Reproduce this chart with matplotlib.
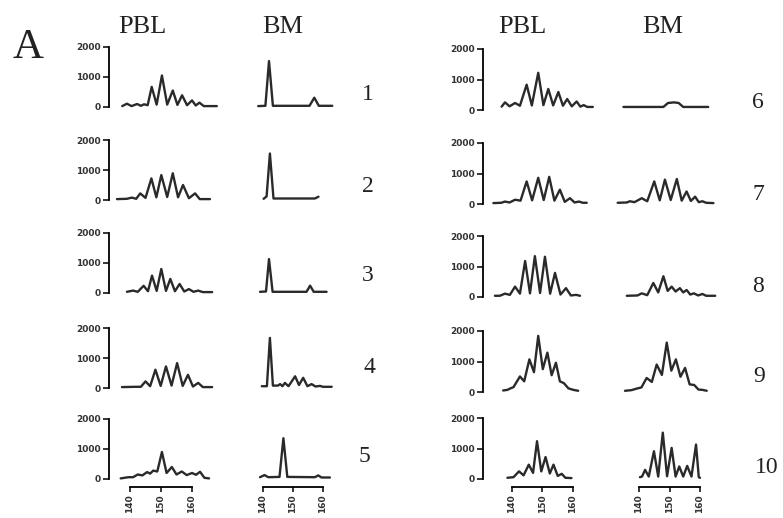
import matplotlib.pyplot as plt

W, H = 783, 518

patients = ['1', '2', '3', '4', '5', '6', '7', '8', '9', '10']
y_ticks = [0, 1000, 2000]
x_ticks = [140, 150, 160]

# spectratype traces: (CDR3 length in nt, intensity)
pbl_traces = [
    [(137.5, 30), (139, 110), (140.5, 30), (142.3, 100), (143.5, 40), (144.5, 90), (145.7, 60),
     (147, 670), (148.6, 80), (150.3, 1050), (152, 80), (153.8, 550), (155.3, 70), (156.8, 390),
     (158.4, 60), (160, 220), (161.2, 50), (162.4, 145), (163.8, 30), (168, 30)],
    [(135.8, 30), (139, 40), (140.6, 80), (142, 40), (143.3, 220), (145, 70), (146.9, 720),
     (148.5, 90), (150.1, 830), (152, 100), (153.8, 890), (155.5, 90), (157.1, 500), (159, 60),
     (161, 220), (162.5, 30), (165.8, 30)],
    [(139, 40), (141, 80), (142.5, 40), (144.4, 240), (145.8, 60), (147.1, 580), (148.6, 70),
     (150.1, 800), (151.6, 70), (153, 470), (154.5, 60), (156, 300), (157.5, 50), (159, 130),
     (160.5, 40), (162, 80), (163.5, 30), (166.5, 30)],
    [(137.4, 30), (141.5, 40), (143.5, 40), (145, 220), (146.5, 60), (148.2, 610), (149.9, 70),
     (151.6, 720), (153.4, 80), (155.2, 830), (157, 70), (158.7, 440), (160.3, 50), (162, 170),
     (163.5, 30), (166.5, 30)],
    [(137, 20), (139.5, 60), (141, 60), (142.5, 150), (144, 120), (145.5, 230), (146.5, 180),
     (147.5, 280), (148.8, 250), (150.3, 900), (151.8, 200), (153.5, 400), (155, 150),
     (156.7, 250), (158.3, 130), (160, 200), (161.3, 140), (162.6, 240), (164, 40), (165.5, 20)],
    [(136.6, 110), (137.7, 250), (139.2, 120), (141, 230), (142.6, 140), (144.8, 830),
     (146.5, 150), (148.6, 1220), (150.3, 160), (151.9, 690), (153.5, 150), (155.2, 590),
     (156.7, 140), (158.1, 360), (159.6, 120), (161.2, 280), (162.4, 110), (163.5, 160),
     (164.7, 100), (166.5, 100)],
    [(133.9, 30), (136.5, 40), (137.7, 80), (139.2, 50), (141, 140), (142.8, 110), (144.8, 740),
     (146.6, 120), (148.6, 860), (150.4, 130), (152.2, 890), (153.9, 110), (155.7, 470),
     (157.3, 70), (159, 190), (160.5, 50), (162, 80), (163.2, 40), (164.5, 40)],
    [(134.4, 40), (136, 40), (137.7, 110), (139.3, 70), (141, 340), (142.6, 110), (144.3, 1180),
     (145.9, 120), (147.5, 1340), (149.2, 130), (150.8, 1320), (152.5, 110), (154.1, 790),
     (155.9, 80), (157.7, 290), (159.3, 50), (161, 70), (162.3, 40)],
    [(137.1, 50), (138.5, 70), (139.3, 110), (140.5, 160), (142.6, 510), (144, 350),
     (145.7, 1070), (147.2, 650), (148.6, 1840), (150.1, 750), (151.6, 1290), (153, 550),
     (154.4, 960), (155.7, 350), (157, 290), (158.5, 120), (160.1, 70), (161.7, 40)],
    [(138.5, 40), (140.5, 60), (142.3, 250), (143.8, 120), (145.5, 470), (146.9, 200),
     (148.2, 1240), (149.6, 250), (151, 720), (152.4, 180), (153.6, 470), (155, 100),
     (156.3, 170), (157.5, 40), (159.5, 30)],
]

bm_traces = [
    [(138.4, 30), (140.8, 40), (142, 1530), (143.3, 40), (155.5, 40), (157.1, 310), (158.6, 40),
     (163.1, 40)],
    [(140.2, 40), (141.2, 120), (142.3, 1550), (143.5, 50), (157.3, 50), (158.5, 110)],
    [(139, 40), (141, 50), (142, 1130), (143.2, 40), (154.5, 40), (155.7, 245), (156.9, 40),
     (161.2, 40)],
    [(139.6, 60), (141.3, 60), (142.3, 1670), (143.3, 80), (145, 80), (145.7, 130), (146.5, 60),
     (147.3, 170), (148.5, 60), (150.7, 390), (152, 100), (153.4, 340), (154.8, 60),
     (156.2, 130), (157.5, 50), (159, 70), (160, 40), (162.9, 40)],
    [(139, 60), (140.5, 130), (141.8, 60), (145.5, 70), (146.8, 1360), (148.1, 70), (157.3, 60),
     (158.4, 120), (159.5, 50), (162.3, 50)],
    [(134.9, 100), (148, 100), (149.5, 230), (151.5, 250), (153, 230), (154.5, 100),
     (162.7, 100)],
    [(133, 40), (136, 50), (137, 90), (138.5, 60), (140.9, 190), (142.7, 90), (145, 740),
     (146.8, 120), (148.5, 800), (150.4, 130), (152.4, 820), (154, 110), (155.6, 410),
     (157, 100), (158.4, 240), (159.6, 60), (160.8, 90), (162, 40), (164.4, 30)],
    [(136, 40), (139.5, 50), (140.9, 120), (142.7, 60), (144.7, 460), (146.3, 150), (148, 680),
     (149.4, 200), (150.7, 340), (152, 180), (153.4, 290), (154.5, 150), (155.6, 230),
     (156.8, 80), (158, 120), (159.4, 50), (160.8, 100), (162, 40), (165, 40)],
    [(135.4, 40), (137.5, 60), (139.2, 110), (140.8, 150), (142.5, 460), (144.2, 330),
     (145.8, 900), (147.5, 560), (149.1, 1620), (150.6, 700), (152.1, 1070), (153.6, 500),
     (155.1, 790), (156.6, 250), (158.1, 230), (159.5, 80), (160.8, 70), (162.2, 40)],
    [(140.3, 60), (141, 80), (142, 300), (143.2, 80), (144.9, 910), (146.3, 80), (147.8, 1520),
     (149.2, 90), (150.7, 1020), (152, 80), (153.2, 410), (154.5, 80), (155.8, 430),
     (157.2, 80), (158.7, 1130), (159.6, 60), (160, 40)],
]

# pixel layout of the two blocks
NT_LO, NT_HI = 128, 170
blocks = [
    dict(rows=range(0, 5), zero_y=[107, 200, 293, 388, 479], h=60,
         pbl=(130, 3.1), bm=(263, 3.0), yaxis_nt=133.2,
         head_y=33, pbl_x=142, bm_x=283,
         num_xy=[(368, 100), (368, 192), (368, 281), (369, 373), (364, 462)]),
    dict(rows=range(5, 10), zero_y=[110, 204, 297, 392, 479], h=61,
         pbl=(512, 3.05), bm=(639, 3.05), yaxis_nt=130.4,
         head_y=33, pbl_x=522, bm_x=663,
         num_xy=[(758, 108), (758, 200), (758, 292), (759, 382), (767, 473)]),
]

LINE = '#2a2a2a'
SERIF = 'Liberation Serif'

fig = plt.figure(figsize=(W / 100, H / 100), dpi=100)


def panel(x140, ppn, y0, h, trace, yaxis_nt=None, xaxis=False):
    left = x140 + (NT_LO - 140) * ppn
    ax = fig.add_axes([left / W, 1 - y0 / H, (NT_HI - NT_LO) * ppn / W, h / H])
    ax.set_xlim(NT_LO, NT_HI)
    ax.set_ylim(0, 2000)
    ax.patch.set_visible(False)
    xs = [p[0] for p in trace]
    ys = [p[1] for p in trace]
    ax.plot(xs, ys, color=LINE, lw=1.7, solid_joinstyle='round', solid_capstyle='round',
            clip_on=False)
    ax.spines['top'].set_visible(False)
    ax.spines['right'].set_visible(False)
    if yaxis_nt is not None:
        ax.spines['left'].set_position(('data', yaxis_nt))
        ax.spines['left'].set_bounds(0, 2000)
        ax.spines['left'].set_linewidth(1.3)
        ax.set_yticks(y_ticks)
        ax.set_yticklabels([str(t) for t in y_ticks], fontweight='bold')
        ax.tick_params(axis='y', direction='out', length=4.5, width=1.1, pad=1.5,
                       labelsize=6.5, labelcolor='#333333')
    else:
        ax.spines['left'].set_visible(False)
        ax.set_yticks([])
    if xaxis:
        ax.spines['bottom'].set_position(('outward', 5.8))
        ax.spines['bottom'].set_bounds(140, 160)
        ax.spines['bottom'].set_linewidth(1.3)
        ax.set_xticks(x_ticks)
        ax.set_xticklabels([str(t) for t in x_ticks], rotation=90, fontweight='bold')
        ax.tick_params(axis='x', direction='out', length=3.5, width=1.1, pad=2,
                       labelsize=6.5, labelcolor='#333333')
    else:
        ax.spines['bottom'].set_visible(False)
        ax.set_xticks([])
    return ax


for b in blocks:
    for k, i in enumerate(b['rows']):
        last = k == len(b['rows']) - 1
        panel(b['pbl'][0], b['pbl'][1], b['zero_y'][k], b['h'], pbl_traces[i],
              yaxis_nt=b['yaxis_nt'], xaxis=last)
        panel(b['bm'][0], b['bm'][1], b['zero_y'][k], b['h'], bm_traces[i], xaxis=last)
        nx, ny = b['num_xy'][k]
        fig.text(nx / W, 1 - ny / H, patients[i], family=SERIF, fontsize=17,
                 ha='center', va='baseline', color='#222222')
    fig.text(b['pbl_x'] / W, 1 - b['head_y'] / H, 'PBL', family=SERIF, fontsize=19,
             ha='center', va='baseline', color='#222222')
    fig.text(b['bm_x'] / W, 1 - b['head_y'] / H, 'BM', family=SERIF, fontsize=19,
             ha='center', va='baseline', color='#222222')

fig.text(28 / W, 1 - 58 / H, 'A', family=SERIF, fontsize=31, ha='center', va='baseline',
         color='#222222')

fig.savefig('out.png', dpi=100)
